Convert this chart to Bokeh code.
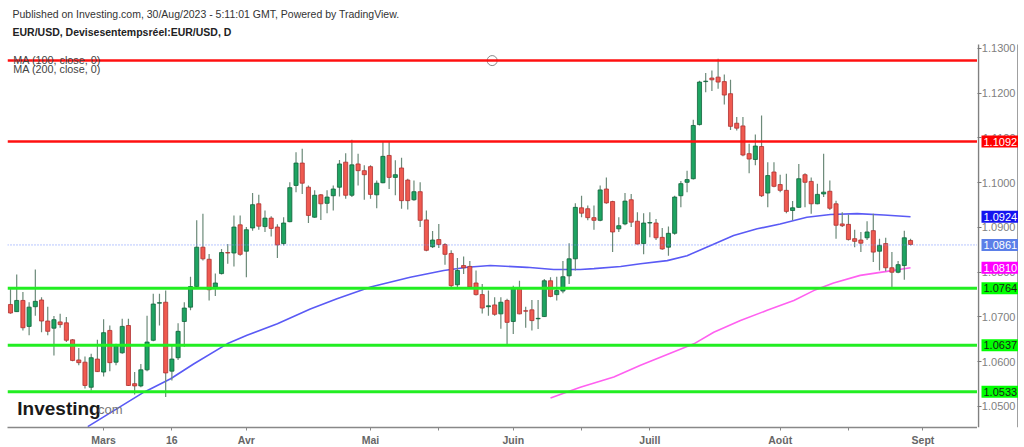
from bokeh.plotting import figure
from bokeh.layouts import row
from bokeh.models import Span, Label, FixedTicker, PrintfTickFormatter, Range1d, ColumnDataSource
from bokeh.embed import file_html
from bokeh.resources import INLINE

# ---------------- data (EUR/USD daily) ----------------
opens = [1.0728, 1.0712, 1.0737, 1.0679, 1.0723, 1.0738, 1.0691, 1.0675, 1.0689, 1.0687,
         1.0649, 1.0604, 1.0599, 1.0543, 1.0606, 1.0577, 1.0670, 1.0599, 1.0620, 1.0681,
         1.0551, 1.0546, 1.0582, 1.0648, 1.0731, 1.0733, 1.0579, 1.0609, 1.0690, 1.0722,
         1.0768, 1.0856, 1.0829, 1.0767, 1.0797, 1.0844, 1.0843, 1.0906, 1.0847, 1.0899,
         1.0953, 1.0902, 1.0921, 1.0901, 1.0864, 1.0913, 1.0994, 1.1044, 1.0990, 1.0923,
         1.0973, 1.0954, 1.0971, 1.0990, 1.1046, 1.0972, 1.1042, 1.1027, 1.1036, 1.0973,
         1.1000, 1.1061, 1.1012, 1.1033, 1.1006, 1.0962, 1.0980, 1.0917, 1.0857, 1.0873,
         1.0862, 1.0842, 1.0772, 1.0815, 1.0813, 1.0776, 1.0750, 1.0723, 1.0727, 1.0707,
         1.0737, 1.0690, 1.0763, 1.0714, 1.0716, 1.0696, 1.0701, 1.0781, 1.0750, 1.0758,
         1.0792, 1.0830, 1.0944, 1.0942, 1.0922, 1.0916, 1.0986, 1.0958, 1.0897, 1.0908,
         1.0962, 1.0914, 1.0864, 1.0910, 1.0910, 1.0878, 1.0856, 1.0887, 1.0971, 1.1001,
         1.1009, 1.1130, 1.1226, 1.1234, 1.1236, 1.1226, 1.1199, 1.1133, 1.1127, 1.1065,
         1.1052, 1.1081, 1.0977, 1.1024, 1.0996, 1.0983, 1.0938, 1.0945, 1.1018, 1.1003,
         1.0953, 1.0975, 1.0981, 1.0953, 1.0908, 1.0907, 1.0875, 1.0872, 1.0877, 1.0893,
         1.0847, 1.0864, 1.0810, 1.0800, 1.0815, 1.0871]
highs = [1.0763, 1.0795, 1.0756, 1.0733, 1.0806, 1.0744, 1.0723, 1.0702, 1.0707, 1.0700,
         1.0651, 1.0631, 1.0612, 1.0618, 1.0649, 1.0695, 1.0681, 1.0640, 1.0696, 1.0696,
         1.0577, 1.0595, 1.0703, 1.0752, 1.0752, 1.0759, 1.0636, 1.0686, 1.0733, 1.0790,
         1.0916, 1.0931, 1.0841, 1.0797, 1.0852, 1.0863, 1.0927, 1.0927, 1.0901, 1.0977,
         1.0973, 1.0938, 1.0925, 1.0907, 1.0923, 1.1001, 1.1068, 1.1076, 1.0994, 1.0983,
         1.0975, 1.0983, 1.0994, 1.1051, 1.1066, 1.1096, 1.1065, 1.1039, 1.1039, 1.1005,
         1.1091, 1.1091, 1.1050, 1.1056, 1.1009, 1.1005, 1.1001, 1.0938, 1.0892, 1.0908,
         1.0865, 1.0849, 1.0832, 1.0835, 1.0825, 1.0804, 1.0774, 1.0759, 1.0744, 1.0744,
         1.0741, 1.0770, 1.0781, 1.0723, 1.0738, 1.0738, 1.0785, 1.0789, 1.0790, 1.0825,
         1.0865, 1.0954, 1.0971, 1.0949, 1.0949, 1.0994, 1.1012, 1.0960, 1.0923, 1.0977,
         1.0975, 1.0934, 1.0932, 1.0934, 1.0919, 1.0899, 1.0902, 1.0971, 1.1004, 1.1027,
         1.1141, 1.1228, 1.1245, 1.1251, 1.1277, 1.1242, 1.1230, 1.1147, 1.1147, 1.1087,
         1.1108, 1.1150, 1.1046, 1.1046, 1.1018, 1.1020, 1.0959, 1.1042, 1.1021, 1.1012,
         1.0998, 1.1065, 1.1005, 1.0960, 1.0934, 1.0929, 1.0895, 1.0890, 1.0914, 1.0931,
         1.0875, 1.0877, 1.0845, 1.0825, 1.0893, 1.0875]
lows = [1.0707, 1.0711, 1.0670, 1.0659, 1.0703, 1.0666, 1.0659, 1.0614, 1.0676, 1.0644,
        1.0601, 1.0592, 1.0540, 1.0536, 1.0577, 1.0567, 1.0579, 1.0592, 1.0618, 1.0546,
        1.0527, 1.0543, 1.0579, 1.0646, 1.0681, 1.0521, 1.0558, 1.0604, 1.0633, 1.0715,
        1.0767, 1.0826, 1.0737, 1.0747, 1.0795, 1.0819, 1.0813, 1.0837, 1.0789, 1.0893,
        1.0895, 1.0890, 1.0880, 1.0832, 1.0860, 1.0912, 1.0979, 1.0975, 1.0910, 1.0922,
        1.0917, 1.0932, 1.0938, 1.0969, 1.0964, 1.0968, 1.0994, 1.0962, 1.0964, 1.0943,
        1.0999, 1.0986, 1.0972, 1.0942, 1.0940, 1.0960, 1.0901, 1.0847, 1.0854, 1.0854,
        1.0817, 1.0763, 1.0763, 1.0796, 1.0763, 1.0748, 1.0708, 1.0703, 1.0703, 1.0674,
        1.0639, 1.0662, 1.0706, 1.0676, 1.0670, 1.0673, 1.0700, 1.0744, 1.0737, 1.0753,
        1.0774, 1.0804, 1.0923, 1.0916, 1.0895, 1.0914, 1.0953, 1.0845, 1.0890, 1.0905,
        1.0901, 1.0862, 1.0840, 1.0878, 1.0872, 1.0850, 1.0837, 1.0884, 1.0945, 1.0979,
        1.1007, 1.1128, 1.1202, 1.1205, 1.1210, 1.1175, 1.1118, 1.1117, 1.1059, 1.1021,
        1.1039, 1.0968, 1.0945, 1.0990, 1.0979, 1.0932, 1.0916, 1.0944, 1.0945, 1.0931,
        1.0952, 1.0968, 1.0939, 1.0875, 1.0901, 1.0871, 1.0856, 1.0845, 1.0872, 1.0823,
        1.0804, 1.0802, 1.0765, 1.0798, 1.0783, 1.0860]
closes = [1.0709, 1.0737, 1.0676, 1.0722, 1.0735, 1.0691, 1.0668, 1.0694, 1.0683, 1.0648,
          1.0603, 1.0598, 1.0547, 1.0609, 1.0578, 1.0665, 1.0598, 1.0635, 1.0679, 1.0547,
          1.0546, 1.0582, 1.0644, 1.0729, 1.0732, 1.0575, 1.0606, 1.0668, 1.0720, 1.0768,
          1.0856, 1.0830, 1.0761, 1.0776, 1.0844, 1.0843, 1.0901, 1.0840, 1.0895, 1.0951,
          1.0903, 1.0921, 1.0898, 1.0861, 1.0910, 1.0989, 1.1044, 1.0999, 1.0927, 1.0972,
          1.0953, 1.0968, 1.0986, 1.1042, 1.0972, 1.1040, 1.1027, 1.1018, 1.0974, 1.0999,
          1.1059, 1.1012, 1.1018, 1.0960, 1.0960, 1.0980, 1.0916, 1.0849, 1.0872, 1.0862,
          1.0840, 1.0770, 1.0804, 1.0810, 1.0767, 1.0750, 1.0720, 1.0725, 1.0706, 1.0733,
          1.0688, 1.0763, 1.0707, 1.0713, 1.0692, 1.0697, 1.0781, 1.0746, 1.0759, 1.0790,
          1.0830, 1.0945, 1.0932, 1.0922, 1.0916, 1.0984, 1.0955, 1.0890, 1.0904, 1.0959,
          1.0912, 1.0863, 1.0910, 1.0911, 1.0877, 1.0852, 1.0887, 1.0968, 1.0998, 1.1007,
          1.1128, 1.1225, 1.1227, 1.1230, 1.1225, 1.1196, 1.1126, 1.1122, 1.1062, 1.1053,
          1.1082, 1.0971, 1.1016, 1.0992, 1.0983, 1.0936, 1.0944, 1.1009, 1.1001, 1.0953,
          1.0974, 1.0979, 1.0943, 1.0905, 1.0904, 1.0873, 1.0869, 1.0865, 1.0890, 1.0845,
          1.0860, 1.0810, 1.0800, 1.0817, 1.0877, 1.0862]

# moving averages, read at points along the lines (bar index, value)
ma100_idx = [12.45, 21.5, 25.8, 29.5, 34.9, 38.1, 43.0, 48.3, 52.6, 58.0, 64.4, 69.8, 73.6,
             77.3, 83.2, 87.5, 91.8, 94.0, 98.3, 101.5, 105.8, 109.0, 112.8, 116.5, 120.3,
             124.0, 128.3, 132.1, 136.4, 140.7, 145.0]
ma100_val = [1.0455, 1.0532, 1.0562, 1.0595, 1.0640, 1.0659, 1.0685, 1.0718, 1.0741, 1.0767,
             1.0789, 1.0804, 1.0811, 1.0815, 1.0811, 1.0806, 1.0806, 1.0808, 1.0813, 1.0819,
             1.0826, 1.0837, 1.0860, 1.0882, 1.0897, 1.0908, 1.0923, 1.0929, 1.0931, 1.0928,
             1.0924]
ma200_idx = [87.0, 91.8, 97.2, 101.5, 105.8, 110.1, 113.3, 117.6, 121.9, 126.2, 129.4,
             132.6, 136.9, 141.2, 145.0]
ma200_val = [1.0519, 1.0543, 1.0566, 1.0592, 1.0616, 1.0640, 1.0666, 1.0692, 1.0715, 1.0737,
             1.0759, 1.0776, 1.0793, 1.0802, 1.0810]

red_levels = [1.1273, 1.1092]
green_levels = [1.0764, 1.0637, 1.0533]
last_price = 1.0861
ma100_last = 1.0924
ma200_last = 1.0810
handle_idx = [77.6]

price_ticks = [1.05, 1.06, 1.07, 1.08, 1.09, 1.10, 1.11, 1.12, 1.13]
date_ticks = [15, 26, 38, 58, 69, 81, 92, 103, 124, 135, 147]
date_labels = ["Mars", "16", "Avr", "Mai", "", "Juin", "", "Juill", "Août", "", "Sept"]

FONT = "Liberation Sans"
Y_LOW, Y_HIGH = 1.045307, 1.140726   # visible price window
SCALE_TOP = 1.1309                    # where the price-scale line starts

# ---------------- main chart ----------------
yr = Range1d(Y_LOW, Y_HIGH)
p = figure(frame_width=970, frame_height=427,
           x_range=Range1d(-0.483, 155.79), y_range=yr,
           y_axis_location=None, output_backend="svg", toolbar_location=None,
           min_border_left=7, min_border_right=0, min_border_top=0, min_border_bottom=17,
           background_fill_color="white", border_fill_color="white",
           outline_line_color=None)
p.xgrid.visible = False
p.ygrid.visible = False

xa = p.xaxis[0]
xa.ticker = FixedTicker(ticks=date_ticks)
xa.major_label_overrides = {t: l for t, l in zip(date_ticks, date_labels)}
xa.axis_line_color = "#888888"
xa.axis_line_width = 1.5
xa.major_tick_line_color = "#888888"
xa.major_tick_in = 0
xa.major_tick_out = 3
xa.minor_tick_line_color = None
xa.major_label_text_font = FONT
xa.major_label_text_font_size = "10.5px"
xa.major_label_text_font_style = "bold"
xa.major_label_text_color = "#666666"
xa.major_label_standoff = 3

for lv in red_levels:
    p.add_layout(Span(location=lv, dimension="width", line_color="#ff1010", line_width=2.5))
for lv in green_levels:
    p.add_layout(Span(location=lv, dimension="width", line_color="#22ee22", line_width=3))
p.add_layout(Span(location=last_price, dimension="width", line_color="#6f8cff",
                  line_width=1, line_dash="1 2"))

p.line(ma100_idx, ma100_val, line_color="#5a5af5", line_width=1.6)
p.line(ma200_idx, ma200_val, line_color="#ff60f0", line_width=1.6)

idx = list(range(len(opens)))
up = [c >= o for o, c in zip(opens, closes)]
src = ColumnDataSource(dict(
    x=idx, o=opens, h=highs, l=lows, c=closes,
    top=[max(o, c) for o, c in zip(opens, closes)],
    bot=[min(o, c) for o, c in zip(opens, closes)],
    fill=["#1ea462" if u else "#ef5a50" for u in up],
    line=["#10623a" if u else "#b03030" for u in up],
))
p.segment(x0="x", y0="l", x1="x", y1="h", source=src, line_color="#6c8a79", line_width=1.2)
p.vbar(x="x", width=0.66, top="top", bottom="bot", source=src,
       fill_color="fill", line_color="line", line_width=0.8)

p.scatter(handle_idx, [red_levels[0]], size=10, fill_color="white", line_color="#888888",
          line_width=1)

p.add_layout(Label(x=0.32, y=1.13782, text="Published on Investing.com, 30/Aug/2023 - 5:11:01 GMT, Powered by TradingView.",
                   text_font=FONT, text_font_size="10.5px", text_color="#333333",
                   text_baseline="middle"))
p.add_layout(Label(x=0.32, y=1.13358, text="EUR/USD, Devisesentempsréel:EUR/USD, D",
                   text_font=FONT, text_font_size="10.5px", text_font_style="bold",
                   text_color="#222222", text_baseline="middle"))
p.add_layout(Label(x=0.45, y=1.12754, text="MA (100, close, 0)", text_font=FONT,
                   text_font_size="10.8px", text_color="#444444", text_baseline="middle"))
p.add_layout(Label(x=0.45, y=1.12531, text="MA (200, close, 0)", text_font=FONT,
                   text_font_size="10.8px", text_color="#444444", text_baseline="middle"))

p.add_layout(Label(x=1.1, y=1.0496, text="Investing", text_font=FONT, text_font_size="19px",
                   text_font_style="bold", text_color="#1a1a1a", text_baseline="middle"))
p.add_layout(Label(x=13.5, y=1.0493, text=".com", text_font=FONT, text_font_size="13px",
                   text_color="#777777", text_baseline="middle"))

# ---------------- price scale (right) ----------------
s = figure(frame_width=41, frame_height=427,
           x_range=Range1d(-1, 40), y_range=yr,
           y_axis_location="left", x_axis_location=None,
           output_backend="svg", toolbar_location=None,
           min_border_left=0, min_border_right=0, min_border_top=0, min_border_bottom=17,
           background_fill_color="white", border_fill_color="white",
           outline_line_color=None)
s.xgrid.visible = False
s.ygrid.visible = False
ya = s.yaxis[0]
ya.ticker = FixedTicker(ticks=price_ticks)
ya.formatter = PrintfTickFormatter(format="%.4f")
ya.axis_line_color = None
ya.major_tick_line_color = "#777777"
ya.major_tick_in = 4
ya.major_tick_out = 0
ya.minor_tick_line_color = None
ya.major_label_text_font = FONT
ya.major_label_text_font_size = "11px"
ya.major_label_text_color = "#808080"
ya.major_label_standoff = -38
# scale line and right border
s.segment(x0=[0, 39.5], y0=[Y_LOW, Y_LOW], x1=[0, 39.5], y1=[SCALE_TOP, SCALE_TOP],
          line_color="#808080", line_width=1.5)

tags = [(red_levels[1], "#ff0000", "white"), (ma100_last, "#1414f0", "white"),
        (last_price, "#5b7fe8", "white"), (ma200_last, "#ff00ff", "white"),
        (green_levels[0], "#00ff00", "#1a1a1a"), (green_levels[1], "#00ff00", "#1a1a1a"),
        (green_levels[2], "#00ff00", "#1a1a1a")]
for val, bg, fg in tags:
    s.add_layout(Label(x=3, y=val, text="%.4f" % val, text_font=FONT,
                       text_font_size="11px", text_color=fg, text_baseline="middle",
                       background_fill_color=bg, padding=2))

open("out.html", "w").write(file_html(row(p, s), INLINE))
